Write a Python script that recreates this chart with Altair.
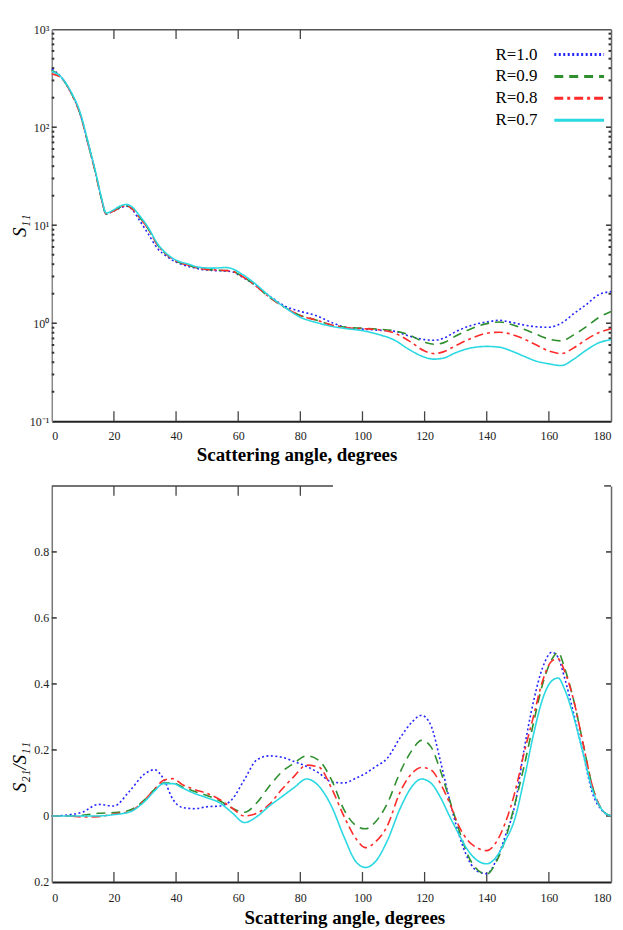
import altair as alt
import pandas as pd

SERIES = ["R=1.0", "R=0.9", "R=0.8", "R=0.7"]
COLORS = ["#2525ff", "#2e8f2e", "#ff2b2b", "#2ad8e2"]
DASHES = [[2, 2.5], [9, 6], [9, 4, 3, 4], [1, 0]]

# ---- top panel: S11 (log) ----
ANGLE_S11 = [0, 3, 6, 9, 12, 14, 16, 17.5, 20, 22, 24, 26, 28, 31, 34, 37, 40, 44, 48, 52,
             56, 58, 61, 65, 70, 75, 80, 85, 90, 95, 100, 105, 110, 115, 120, 123, 126, 130,
             135, 140, 144, 148, 152, 156, 160, 164, 168, 172, 176, 180]
S11_R10 = [390, 325, 230, 140, 62, 35, 18.5, 13.0, 14.0, 15.0, 15.6, 14.3, 11.5, 8.2, 5.8, 4.8,
           4.2, 3.8, 3.55, 3.45, 3.4, 3.35, 3.0, 2.5, 1.9, 1.5, 1.32, 1.2, 1.02, 0.9, 0.87,
           0.85, 0.83, 0.74, 0.68, 0.67, 0.7, 0.82, 0.95, 1.03, 1.07, 1.02, 0.96, 0.92, 0.91,
           1.0, 1.25, 1.55, 1.95, 2.1]
S11_R09 = [380, 325, 230, 140, 62, 35, 18.5, 13.0, 14.0, 15.2, 15.8, 14.6, 12.3, 9.2, 6.3, 5.0,
           4.3, 3.9, 3.6, 3.5, 3.45, 3.4, 3.05, 2.5, 1.85, 1.45, 1.2, 1.08, 0.96, 0.91, 0.89,
           0.87, 0.84, 0.76, 0.64, 0.61, 0.63, 0.74, 0.88, 0.99, 1.03, 0.97, 0.87, 0.77, 0.69,
           0.66, 0.76, 0.92, 1.14, 1.32]
S11_R08 = [350, 320, 230, 140, 62, 35, 18.5, 13.0, 14.0, 15.2, 15.8, 14.6, 12.3, 9.2, 6.3, 5.0,
           4.3, 3.9, 3.6, 3.5, 3.45, 3.4, 3.05, 2.5, 1.85, 1.45, 1.2, 1.08, 0.96, 0.9, 0.88,
           0.86, 0.8, 0.66, 0.52, 0.49, 0.51, 0.59, 0.7, 0.79, 0.81, 0.77, 0.69, 0.6, 0.52,
           0.49, 0.56, 0.68, 0.8, 0.88]
S11_R07 = [370, 325, 235, 145, 64, 36, 19, 13.3, 14.4, 15.7, 16.3, 15.2, 12.8, 9.5, 6.5, 5.1,
           4.4, 4.0, 3.7, 3.65, 3.7, 3.6, 3.2, 2.6, 1.9, 1.45, 1.15, 1.02, 0.93, 0.88, 0.84,
           0.77, 0.68, 0.54, 0.45, 0.43, 0.44, 0.5, 0.56, 0.58, 0.57, 0.52, 0.46, 0.41, 0.385,
           0.37, 0.43, 0.53, 0.63, 0.68]

# ---- bottom panel: S21/S11 ----
ANGLE_RATIO = [0, 5, 10, 15, 20, 25, 30, 33, 36, 39, 42, 46, 50, 54, 58, 62, 66, 70, 74, 78,
               82, 86, 90, 94, 98, 101, 104, 108, 112, 116, 119, 122, 125, 128, 131, 134, 137,
               140, 143, 146, 149, 152, 155, 158, 161, 163, 165, 168, 171, 174, 177, 180]
RATIO_R10 = [0, 0.003, 0.012, 0.035, 0.03, 0.075, 0.128, 0.14, 0.112, 0.05, 0.026, 0.022, 0.028,
             0.03, 0.05, 0.11, 0.17, 0.182, 0.178, 0.165, 0.15, 0.13, 0.103, 0.1, 0.115, 0.129,
             0.148, 0.175, 0.235, 0.285, 0.305, 0.275, 0.17, 0.05, -0.055, -0.13, -0.168,
             -0.175, -0.135, -0.06, 0.03, 0.2, 0.345, 0.45, 0.496, 0.48, 0.42, 0.31, 0.19,
             0.07, 0.018, 0]
RATIO_R09 = [0, 0.0, 0.002, 0.008, 0.01, 0.017, 0.05, 0.08, 0.1, 0.1, 0.088, 0.074, 0.062,
             0.046, 0.024, 0.011, 0.04, 0.09, 0.133, 0.16, 0.182, 0.168, 0.11, 0.02, -0.03,
             -0.039, -0.02, 0.038, 0.13, 0.2, 0.229, 0.21, 0.14, 0.05, -0.04, -0.12, -0.163,
             -0.176, -0.14, -0.07, 0.035, 0.15, 0.28, 0.4, 0.475, 0.496, 0.45, 0.35, 0.22,
             0.09, 0.02, 0]
RATIO_R08 = [0, 0.0, -0.003, -0.002, 0.006, 0.013, 0.05, 0.08, 0.108, 0.113, 0.095, 0.08, 0.068,
             0.05, 0.024, 0.0, 0.008, 0.035, 0.08, 0.12, 0.154, 0.148, 0.085, 0.0, -0.07,
             -0.096, -0.08, -0.03, 0.07, 0.13, 0.147, 0.14, 0.1, 0.04, -0.03, -0.075, -0.097,
             -0.105, -0.08, -0.02, 0.07, 0.19, 0.3, 0.41, 0.47, 0.476, 0.44, 0.35, 0.22,
             0.09, 0.02, 0]
RATIO_R07 = [0, 0.0, 0.0, 0.0, 0.004, 0.012, 0.045, 0.075, 0.098, 0.098, 0.085, 0.068, 0.055,
             0.04, 0.01, -0.02, -0.002, 0.03, 0.058, 0.086, 0.112, 0.09, 0.03, -0.062, -0.14,
             -0.156, -0.14, -0.075, 0.02, 0.09, 0.112, 0.1, 0.058, 0.0, -0.055, -0.105, -0.135,
             -0.145, -0.125, -0.075, -0.01, 0.11, 0.245, 0.355, 0.41, 0.418, 0.385, 0.3, 0.19,
             0.08, 0.02, 0]

# ---- axis ticks / labels ----
X_LABELS = [0, 20, 40, 60, 80, 100, 120, 140, 160, 180]
X_TICKS_BOTTOM = [20, 40, 60, 80, 100, 120, 140, 160]
X_TICKS_TOP = [20, 40, 60, 80]
LOG_MAJOR = [0.1, 1, 10, 100, 1000]
LOG_INNER = [1, 10, 100]
LOG_MINOR = [d * k for d in [0.1, 1, 10, 100] for k in range(2, 10)]
RATIO_LABELS = [-0.2, 0, 0.2, 0.4, 0.6, 0.8]
RATIO_TICKS = [0, 0.2, 0.4, 0.6, 0.8]
TOP_EDGE_START = [0, 177.8]
TOP_EDGE_END = [90.5, 180]

W1, H1 = 562, 394
W2, H2 = 562, 398
LABEL_FONT = "Liberation Sans Narrow"
SERIF = "Liberation Serif"


def series_frame(angles, arrays):
    rows = []
    for name, vals in zip(SERIES, arrays):
        for a, v in zip(angles, vals):
            rows.append({"angle": a, "value": v, "series": name})
    return pd.DataFrame(rows)


df_top = series_frame(ANGLE_S11, [S11_R10, S11_R09, S11_R08, S11_R07])
df_bot = series_frame(ANGLE_RATIO, [RATIO_R10, RATIO_R09, RATIO_R08, RATIO_R07])

x_scale = alt.Scale(domain=[0, 180], nice=False, zero=False)
y_log = alt.Scale(type="log", domain=[0.1, 1000], nice=False)
y_lin = alt.Scale(domain=[-0.2, 1.0], nice=False, zero=False)


def vrules(values, y0, y1, axis=None, color="#444", width=1.3):
    return alt.Chart(pd.DataFrame({"t": values})).mark_rule(color=color, strokeWidth=width).encode(
        x=alt.X("t:Q", scale=x_scale, axis=axis), y=alt.value(y0), y2=alt.value(y1))


def hrules(values, scale, x0, x1, axis=None, color="#333", width=1.5):
    return alt.Chart(pd.DataFrame({"t": values})).mark_rule(color=color, strokeWidth=width).encode(
        y=alt.Y("t:Q", scale=scale, axis=axis), x=alt.value(x0), x2=alt.value(x1))


frame_top_axis = alt.Axis(orient="top", labels=False, ticks=False, title=None,
                          domainColor="#555", domainWidth=1.5, grid=False)
frame_right_axis = alt.Axis(orient="right", labels=False, ticks=False, title=None,
                            domainColor="#666", domainWidth=1.5, grid=False)

# legend: label on the left, line sample drawn to its right (custom stroke path)
legend = alt.Legend(title=None, orient="none", legendX=430, legendY=17,
                    symbolType="M13.3,0H23.3", symbolSize=100, symbolStrokeWidth=3,
                    symbolFillColor="transparent",
                    labelOffset=41, labelAlign="right",
                    labelFont=SERIF, labelFontSize=17, labelColor="black",
                    rowPadding=4)

log_label = ("datum.value >= 999 ? '10\u00b3' : datum.value >= 99 ? '10\u00b2' : "
             "datum.value >= 9 ? '10\u00b9' : datum.value >= 0.9 ? '10\u2070' : '10\u207b\u00b9'")

lines_top = alt.Chart(df_top).mark_line(strokeWidth=1.6, interpolate="monotone").encode(
    x=alt.X("angle:Q", scale=x_scale,
            axis=alt.Axis(values=X_LABELS, ticks=False, grid=False, domainColor="#222",
                          domainWidth=2, labelPadding=9, title="Scattering angle, degrees",
                          titleX=246, titlePadding=4)),
    y=alt.Y("value:Q", scale=y_log,
            axis=alt.Axis(values=LOG_MAJOR, labelExpr=log_label, ticks=False, grid=False,
                          domainColor="#888", domainWidth=1.5, labelPadding=3,
                          minExtent=22, maxExtent=22, title="S\u2081\u2081", titlePadding=0,
                          titleFontStyle="italic", titleFontWeight="normal")),
    color=alt.Color("series:N", scale=alt.Scale(domain=SERIES, range=COLORS), legend=legend),
    strokeDash=alt.StrokeDash("series:N", scale=alt.Scale(domain=SERIES, range=DASHES), legend=legend),
)

top = alt.layer(
    vrules(X_TICKS_BOTTOM, H1, H1 - 10),
    vrules(X_TICKS_TOP, 0, 10, axis=frame_top_axis),
    hrules(LOG_INNER, y_log, 0, 5),
    hrules(LOG_MINOR, y_log, 0, 2.5, width=2),
    hrules(LOG_INNER, y_log, W1 - 5, W1),
    hrules(LOG_MINOR, y_log, W1 - 2.5, W1, axis=frame_right_axis, width=2),
    lines_top,
).resolve_axis(x="independent", y="independent").properties(width=W1, height=H1)

ratio_label = "abs(datum.value) < 1e-9 ? '0' : format(abs(datum.value), '.1f')"

lines_bot = alt.Chart(df_bot).mark_line(strokeWidth=1.6, interpolate="monotone").encode(
    x=alt.X("angle:Q", scale=x_scale,
            axis=alt.Axis(values=X_LABELS, ticks=False, grid=False, domainColor="#222",
                          domainWidth=2, labelPadding=11, title="Scattering angle, degrees",
                          titleX=294, titlePadding=5)),
    y=alt.Y("value:Q", scale=y_lin,
            axis=alt.Axis(values=RATIO_LABELS, labelExpr=ratio_label, ticks=False, grid=False,
                          domainColor="#777", domainWidth=1.5, labelPadding=3,
                          minExtent=22, maxExtent=22, title="S\u2082\u2081/S\u2081\u2081",
                          titlePadding=0, titleY=282, titleFontStyle="italic",
                          titleFontWeight="normal")),
    color=alt.Color("series:N", scale=alt.Scale(domain=SERIES, range=COLORS), legend=None),
    strokeDash=alt.StrokeDash("series:N", scale=alt.Scale(domain=SERIES, range=DASHES), legend=None),
)

top_edge = alt.Chart(pd.DataFrame({"a": TOP_EDGE_START, "b": TOP_EDGE_END})).mark_rule(
    color="#444", strokeWidth=1.5).encode(
    x=alt.X("a:Q", scale=x_scale, axis=None), x2="b:Q", y=alt.value(0))

bottom = alt.layer(
    vrules(X_TICKS_BOTTOM, H2, H2 - 10),
    vrules(X_TICKS_TOP, 0, 10),
    top_edge,
    hrules(RATIO_TICKS, y_lin, 0, 5),
    hrules(RATIO_TICKS, y_lin, W2 - 5, W2, axis=frame_right_axis),
    lines_bot,
).resolve_axis(x="independent", y="independent").properties(width=W2, height=H2)

chart = alt.vconcat(top, bottom, spacing=21).resolve_scale(
    color="independent", strokeDash="independent"
).properties(
    padding={"left": 3, "top": 13, "right": 0, "bottom": 0},
    background="white",
).configure_view(stroke=None).configure_axis(
    labelFont=LABEL_FONT, labelFontSize=12, labelColor="#222",
    titleFont=SERIF, titleFontSize=19, titleFontWeight="bold", titleColor="black",
)

chart.save("out.html", embed_options={"renderer": "svg", "actions": False})
